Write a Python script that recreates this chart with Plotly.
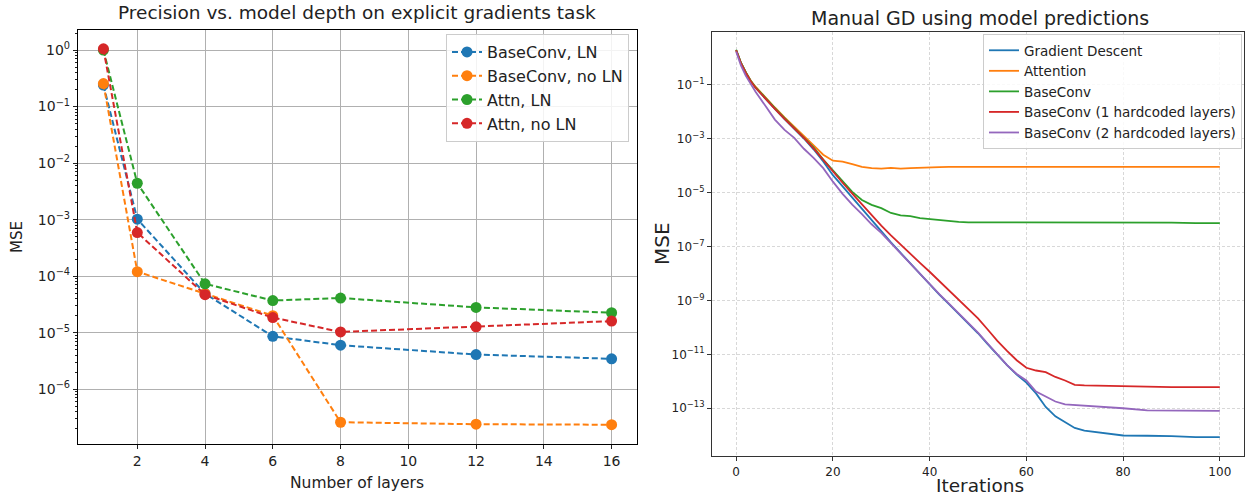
import plotly.graph_objects as go

# ---------------- Left panel data ----------------
layers = [1, 2, 4, 6, 8, 12, 16]
baseconv_ln = [0.24, 1.02e-3, 4.9e-5, 8.6e-6, 6.0e-6, 4.1e-6, 3.45e-6]
baseconv_noln = [0.255, 1.2e-4, 4.9e-5, 2.0e-5, 2.6e-7, 2.4e-7, 2.35e-7]
attn_ln = [1.0, 4.4e-3, 7.3e-5, 3.7e-5, 4.1e-5, 2.8e-5, 2.25e-5]
attn_noln = [1.05, 5.9e-4, 4.7e-5, 1.85e-5, 1.03e-5, 1.27e-5, 1.6e-5]

# ---------------- Right panel data ----------------
iters = [0, 1, 2, 3, 4, 6, 8, 10, 12, 14, 16, 18, 20, 22, 24, 26, 28, 30, 32, 34,
         36, 38, 40, 42, 44, 46, 48, 50, 52, 54, 56, 58, 60, 62, 64, 66, 68, 70,
         72, 74, 76, 78, 80, 85, 90, 95, 100]
gd = [1.86, 0.631, 0.282, 0.132, 7.6e-2, 3.0e-2, 1.26e-2, 5.25e-3, 2.34e-3, 1.0e-3,
      3.98e-4, 1.41e-4, 4.37e-5, 1.66e-5, 6.31e-6, 2.40e-6, 9.12e-7, 3.55e-7, 1.41e-7,
      5.75e-8, 2.34e-8, 9.33e-9, 3.72e-9, 1.62e-9, 7.24e-10, 3.16e-10, 1.38e-10,
      6.03e-11, 2.40e-11, 9.55e-12, 3.98e-12, 1.78e-12, 8.91e-13, 3.55e-13, 1.12e-13,
      5.01e-14, 3.02e-14, 1.86e-14, 1.48e-14, 1.32e-14, 1.17e-14, 1.05e-14, 9.77e-15,
      9.55e-15, 9.33e-15, 8.51e-15, 8.51e-15]
attention = [1.86, 0.631, 0.282, 0.141, 8.32e-2, 3.31e-2, 1.41e-2, 6.03e-3, 2.69e-3,
             1.17e-3, 5.25e-4, 2.51e-4, 1.51e-4, 1.38e-4, 1.12e-4, 8.91e-5, 7.94e-5,
             7.59e-5, 8.13e-5, 7.59e-5, 7.94e-5, 8.32e-5, 8.51e-5, 8.7e-5, 8.8e-5,
             8.9e-5, 8.9e-5, 8.91e-5, 8.91e-5, 8.91e-5, 8.91e-5, 8.91e-5, 8.91e-5,
             8.91e-5, 8.91e-5, 8.91e-5, 8.91e-5, 8.91e-5, 8.91e-5, 8.91e-5, 8.91e-5,
             8.91e-5, 8.91e-5, 8.91e-5, 8.91e-5, 8.91e-5, 8.91e-5]
baseconv = [1.95, 0.631, 0.282, 0.138, 7.94e-2, 3.16e-2, 1.35e-2, 5.75e-3, 2.51e-3,
            1.10e-3, 4.68e-4, 1.66e-4, 6.61e-5, 2.63e-5, 1.05e-5, 5.25e-6, 3.47e-6,
            2.63e-6, 1.74e-6, 1.41e-6, 1.32e-6, 1.12e-6, 1.02e-6, 9.33e-7, 8.91e-7,
            8.13e-7, 7.76e-7, 7.76e-7, 7.59e-7, 7.59e-7, 7.59e-7, 7.59e-7, 7.59e-7,
            7.76e-7, 7.76e-7, 7.94e-7, 7.94e-7, 7.94e-7, 7.94e-7, 7.94e-7, 7.94e-7,
            7.76e-7, 7.59e-7, 7.59e-7, 7.59e-7, 7.24e-7, 7.24e-7]
baseconv_1hc = [1.86, 0.603, 0.269, 0.132, 7.59e-2, 3.02e-2, 1.26e-2, 5.37e-3, 2.40e-3,
                1.05e-3, 4.27e-4, 1.58e-4, 5.75e-5, 2.29e-5, 9.12e-6, 3.63e-6, 1.45e-6,
                5.89e-7, 2.57e-7, 1.15e-7, 5.25e-8, 2.45e-8, 1.15e-8, 5.13e-9, 2.29e-9,
                1.05e-9, 4.79e-10, 2.14e-10, 8.32e-11, 3.16e-11, 1.35e-11, 6.03e-12,
                3.16e-12, 2.51e-12, 2.19e-12, 1.45e-12, 1.07e-12, 7.41e-13, 7.08e-13,
                6.92e-13, 6.76e-13, 6.76e-13, 6.76e-13, 6.17e-13, 6.03e-13, 6.03e-13,
                6.03e-13]
baseconv_2hc = [1.66, 0.501, 0.209, 0.1, 5.37e-2, 1.66e-2, 5.01e-3, 2.09e-3, 1.05e-3,
                4.17e-4, 1.91e-4, 7.94e-5, 2.51e-5, 8.91e-6, 3.55e-6, 1.58e-6, 6.61e-7,
                3.16e-7, 1.32e-7, 5.50e-8, 2.24e-8, 9.12e-9, 3.98e-9, 1.70e-9, 7.59e-10,
                3.31e-10, 1.45e-10, 6.31e-11, 2.51e-11, 9.55e-12, 3.98e-12, 1.86e-12,
                1.07e-12, 4.17e-13, 2.75e-13, 1.78e-13, 1.38e-13, 1.32e-13, 1.26e-13,
                1.20e-13, 1.15e-13, 1.05e-13, 1.0e-13, 8.32e-14, 8.13e-14, 7.94e-14,
                7.94e-14]

# tick labels
left_xticks = [2, 4, 6, 8, 10, 12, 14, 16]
left_yexp = [0, -1, -2, -3, -4, -5, -6]
right_xticks = [0, 20, 40, 60, 80, 100]
right_yexp = [-1, -3, -5, -7, -9, -11, -13]

C = ["#1f77b4", "#ff7f0e", "#2ca02c", "#d62728", "#9467bd"]
FONT = "DejaVu Sans"
W, H = 1248, 495

def px_x(p):
    return p / W

def px_y(p):
    return 1 - p / H

def sup(e):
    return "10<sup>%s</sup>" % str(e).replace("-", "\u2212")

fig = go.Figure()

left_series = [("BaseConv, LN", baseconv_ln), ("BaseConv, no LN", baseconv_noln),
               ("Attn, LN", attn_ln), ("Attn, no LN", attn_noln)]
for i, (name, vals) in enumerate(left_series):
    fig.add_trace(go.Scatter(
        x=layers, y=vals, name=name, mode="lines+markers",
        line=dict(color=C[i], width=2, dash="6px,3px"),
        marker=dict(color=C[i], size=11),
        xaxis="x", yaxis="y", legend="legend"))

right_series = [("Gradient Descent", gd), ("Attention", attention), ("BaseConv", baseconv),
                ("BaseConv (1 hardcoded layers)", baseconv_1hc),
                ("BaseConv (2 hardcoded layers)", baseconv_2hc)]
for i, (name, vals) in enumerate(right_series):
    fig.add_trace(go.Scatter(
        x=iters, y=vals, name=name, mode="lines",
        line=dict(color=C[i], width=1.8),
        xaxis="x2", yaxis="y2", legend="legend2"))

minor_left = [k * 10 ** e for e in range(-8, 1) for k in range(2, 10)]

def ann(text, x, y, size, angle=0):
    return dict(text=text, x=px_x(x), y=px_y(y), xref="paper", yref="paper",
                xanchor="center", yanchor="middle", showarrow=False, textangle=angle,
                font=dict(size=size, family=FONT, color="#222"))

fig.update_layout(
    width=W, height=H, margin=dict(l=0, r=0, t=0, b=0),
    paper_bgcolor="white", plot_bgcolor="white",
    font=dict(family=FONT, color="#222"),
    xaxis=dict(domain=[px_x(78), px_x(637)], range=[0.25, 16.75],
               tickvals=left_xticks, ticks="outside", ticklen=4, tickcolor="#222",
               showgrid=True, gridcolor="#b0b0b0", gridwidth=1, zeroline=False,
               showline=True, linecolor="black", linewidth=1.2, mirror=True,
               tickfont=dict(size=14), anchor="y"),
    yaxis=dict(domain=[px_y(444), px_y(30)], type="log", range=[-6.97, 0.355],
               tickvals=[10 ** e for e in left_yexp],
               ticktext=[sup(e) for e in left_yexp],
               ticks="outside", ticklen=4, tickcolor="#222",
               minor=dict(tickmode="array", tickvals=minor_left, ticks="outside",
                          ticklen=2, tickcolor="#222", showgrid=False),
               showgrid=True, gridcolor="#b0b0b0", gridwidth=1, zeroline=False,
               showline=True, linecolor="black", linewidth=1.2, mirror=True,
               tickfont=dict(size=14), anchor="x"),
    xaxis2=dict(domain=[px_x(712), px_x(1244)], range=[-5, 105],
                tickvals=right_xticks, ticks="outside", ticklen=4, tickcolor="#333",
                showgrid=True, gridcolor="#d8d8d8", gridwidth=0.8, griddash="3px,2px",
                zeroline=False, showline=True, linecolor="#333", linewidth=1.2,
                mirror=True, tickfont=dict(size=12), anchor="y2"),
    yaxis2=dict(domain=[px_y(456), px_y(32)], type="log", range=[-14.77, 0.948],
                tickvals=[10 ** e for e in right_yexp],
                ticktext=[sup(e) for e in right_yexp],
                ticks="outside", ticklen=4, tickcolor="#333",
                showgrid=True, gridcolor="#d8d8d8", gridwidth=0.8, griddash="3px,2px",
                zeroline=False, showline=True, linecolor="#333", linewidth=1.2,
                mirror=True, tickfont=dict(size=12), anchor="x2"),
    legend=dict(x=px_x(629), y=px_y(34), xanchor="right", yanchor="top",
                bgcolor="rgba(255,255,255,0.85)", bordercolor="#cccccc", borderwidth=1,
                font=dict(size=16, family=FONT, color="#222"), itemwidth=30),
    legend2=dict(x=px_x(1242), y=px_y(34), xanchor="right", yanchor="top",
                 bgcolor="rgba(255,255,255,0.85)", bordercolor="#cccccc", borderwidth=1,
                 font=dict(size=13.5, family=FONT, color="#222"), itemwidth=30),
    showlegend=True,
    annotations=[
        ann("Precision vs. model depth on explicit gradients task", 357, 13, 18.5),
        ann("Manual GD using model predictions", 980, 18, 19),
        ann("Number of layers", 357, 483, 15.5),
        ann("MSE", 17, 237, 15, -90),
        ann("Iterations", 980, 485, 18.5),
        ann("MSE", 662, 244, 20, -90),
    ],
)

fig.write_html("out.html", config={"displayModeBar": False},
               post_script="document.body.style.margin='0';document.body.style.overflow='hidden';")
